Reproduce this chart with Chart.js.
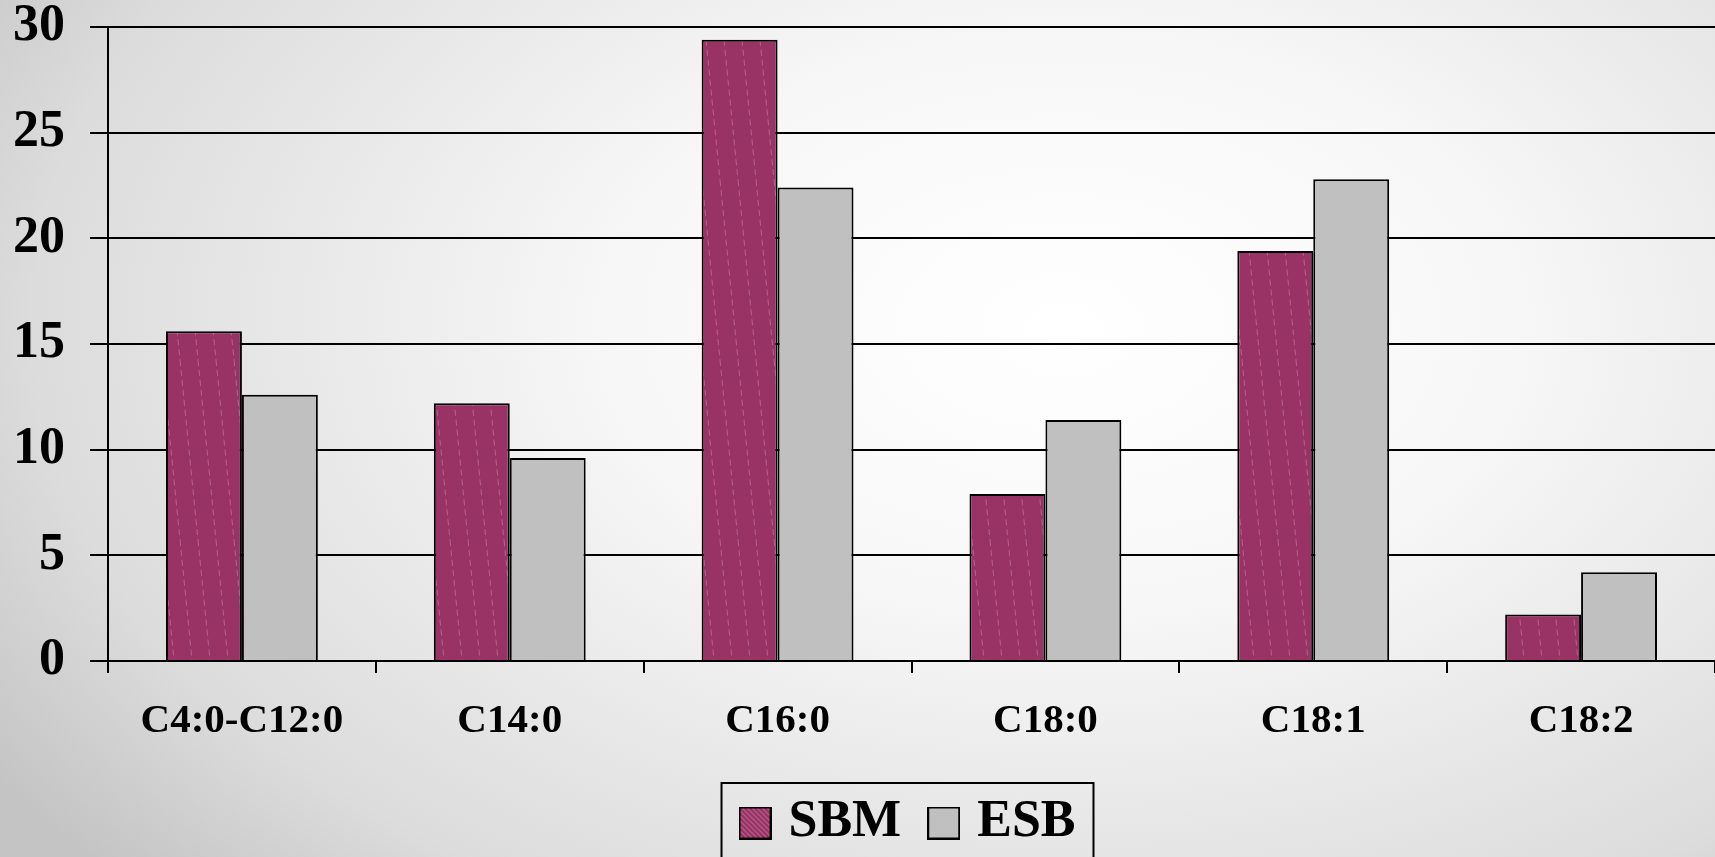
<!DOCTYPE html>
<html>
<head>
<meta charset="utf-8">
<script src="https://cdn.jsdelivr.net/npm/chart.js@4/dist/chart.umd.min.js"></script>
<style>
  html, body { margin: 0; padding: 0; overflow: hidden; }
  body {
    width: 1715px; height: 857px;
    background: radial-gradient(ellipse 75% 95% at 62% 38%, #ffffff 0%, #f7f7f7 35%, #dcdcdc 80%, #c4c4c4 100%);
  }
  #wrap { position: relative; width: 1715px; height: 857px; }
</style>
</head>
<body>
<div id="wrap"><canvas id="fatChart"></canvas></div>
<script>
// fatty acid groups and the two series
var categories = ['C4:0-C12:0', 'C14:0', 'C16:0', 'C18:0', 'C18:1', 'C18:2'];
var sbmValues = [15.6, 12.2, 29.4, 7.9, 19.4, 2.2];
var esbValues = [12.6, 9.6, 22.4, 11.4, 22.8, 4.2];
var yTicks = [0, 5, 10, 15, 20, 25, 30];

var serif = "'Liberation Serif', 'Times New Roman', serif";
var plum = '#993366';
var silver = '#c0c0c0';

// striped plum fill for the SBM bars
function makeStripes() {
    var c = document.createElement('canvas');
    c.width = 18; c.height = 180;
    var p = c.getContext('2d');
    p.fillStyle = plum;
    p.fillRect(0, 0, 18, 180);
    p.strokeStyle = 'rgba(255, 210, 230, 0.3)';
    p.lineWidth = 1;
    p.setLineDash([6, 4]);
    [-18, 0, 18].forEach(function (dx) {
        p.beginPath();
        p.moveTo(dx, 0);
        p.lineTo(dx + 18, 180);
        p.stroke();
    });
    return document.getElementById('fatChart').getContext('2d').createPattern(c, 'repeat');
}

// 33px legend swatch, striped or plain
function makeSwatch(color, striped) {
    var c = document.createElement('canvas');
    c.width = 33; c.height = 33;
    var p = c.getContext('2d');
    p.fillStyle = color;
    p.fillRect(1, 1, 31, 31);
    if (striped) {
        p.save();
        p.beginPath();
        p.rect(1, 1, 31, 31);
        p.clip();
        p.strokeStyle = 'rgba(255, 215, 235, 0.45)';
        p.lineWidth = 1;
        for (var k = -33; k < 33; k += 5) {
            p.beginPath();
            p.moveTo(k, 0);
            p.lineTo(k + 33, 33);
            p.stroke();
        }
        p.restore();
    }
    p.strokeStyle = '#000';
    p.lineWidth = 2;
    p.strokeRect(1, 1, 31, 31);
    return c;
}
var swatches = [makeSwatch(plum, true), makeSwatch(silver, false)];

// box drawn round the legend items
var legendBorder = {
    id: 'legendBorder',
    afterDraw: function (chart) {
        var boxes = chart.legend.legendHitBoxes;
        if (!boxes || !boxes.length) return;
        var left = Math.min.apply(null, boxes.map(function (b) { return b.left; })) - 9 - 17;
        var right = Math.max.apply(null, boxes.map(function (b) { return b.left + b.width; })) + 18;
        var top = boxes[0].top - 14;
        var bottom = boxes[0].top + boxes[0].height + 16;
        var ctx = chart.ctx;
        ctx.save();
        ctx.strokeStyle = '#000';
        ctx.lineWidth = 2;
        ctx.strokeRect(left, top, right - left, bottom - top);
        ctx.restore();
    }
};

var ctx = document.getElementById('fatChart').getContext('2d');

var fatChart = new Chart(ctx, {
    type: 'bar',
    data: {
        labels: categories,
        datasets: [
            {
                label: 'SBM',
                data: sbmValues,
                backgroundColor: makeStripes(),
                borderColor: '#000',
                borderWidth: 2,
                categoryPercentage: 0.567,
                barPercentage: 1
            },
            {
                label: 'ESB',
                data: esbValues,
                backgroundColor: silver,
                borderColor: '#000',
                borderWidth: 2,
                categoryPercentage: 0.567,
                barPercentage: 1
            }
        ]
    },
    options: {
        responsive: true,
        maintainAspectRatio: false,
        animation: false,
        layout: { padding: { top: 27, right: 0, bottom: -2, left: 0 } },
        scales: {
            x: {
                grid: {
                    drawOnChartArea: false,
                    color: '#000',
                    lineWidth: 2,
                    tickLength: 12
                },
                border: { color: '#000', width: 2 },
                ticks: {
                    color: '#000',
                    padding: 24,
                    maxRotation: 0,
                    font: { family: serif, size: 41, weight: 'bold' }
                },
                afterFit: function (s) {
                    s.height = 101;
                    s.paddingLeft = 0;
                    s.paddingRight = 0;
                }
            },
            y: {
                min: 0,
                max: 30,
                afterBuildTicks: function (s) {
                    s.ticks = yTicks.map(function (v) { return { value: v }; });
                },
                grid: {
                    color: '#000',
                    lineWidth: 2,
                    tickLength: 18
                },
                border: { color: '#000', width: 2 },
                ticks: {
                    color: '#000',
                    padding: 25,
                    font: { family: serif, size: 52, weight: 'bold', lineHeight: 1 }
                },
                afterFit: function (s) {
                    s.width = 108;
                    s.paddingTop = 0;
                    s.paddingBottom = 0;
                }
            }
        },
        plugins: {
            legend: {
                display: true,
                position: 'bottom',
                fullSize: false,
                labels: {
                    color: '#000',
                    usePointStyle: true,
                    pointStyleWidth: 15,
                    boxHeight: 33,
                    padding: 35,
                    font: { family: serif, size: 52, weight: 'bold' },
                    generateLabels: function (chart) {
                        var items = Chart.defaults.plugins.legend.labels.generateLabels(chart);
                        items.forEach(function (item, i) { item.pointStyle = swatches[i]; });
                        return items;
                    }
                }
            },
            tooltip: { enabled: false }
        }
    },
    plugins: [legendBorder]
});
</script>
</body>
</html>
